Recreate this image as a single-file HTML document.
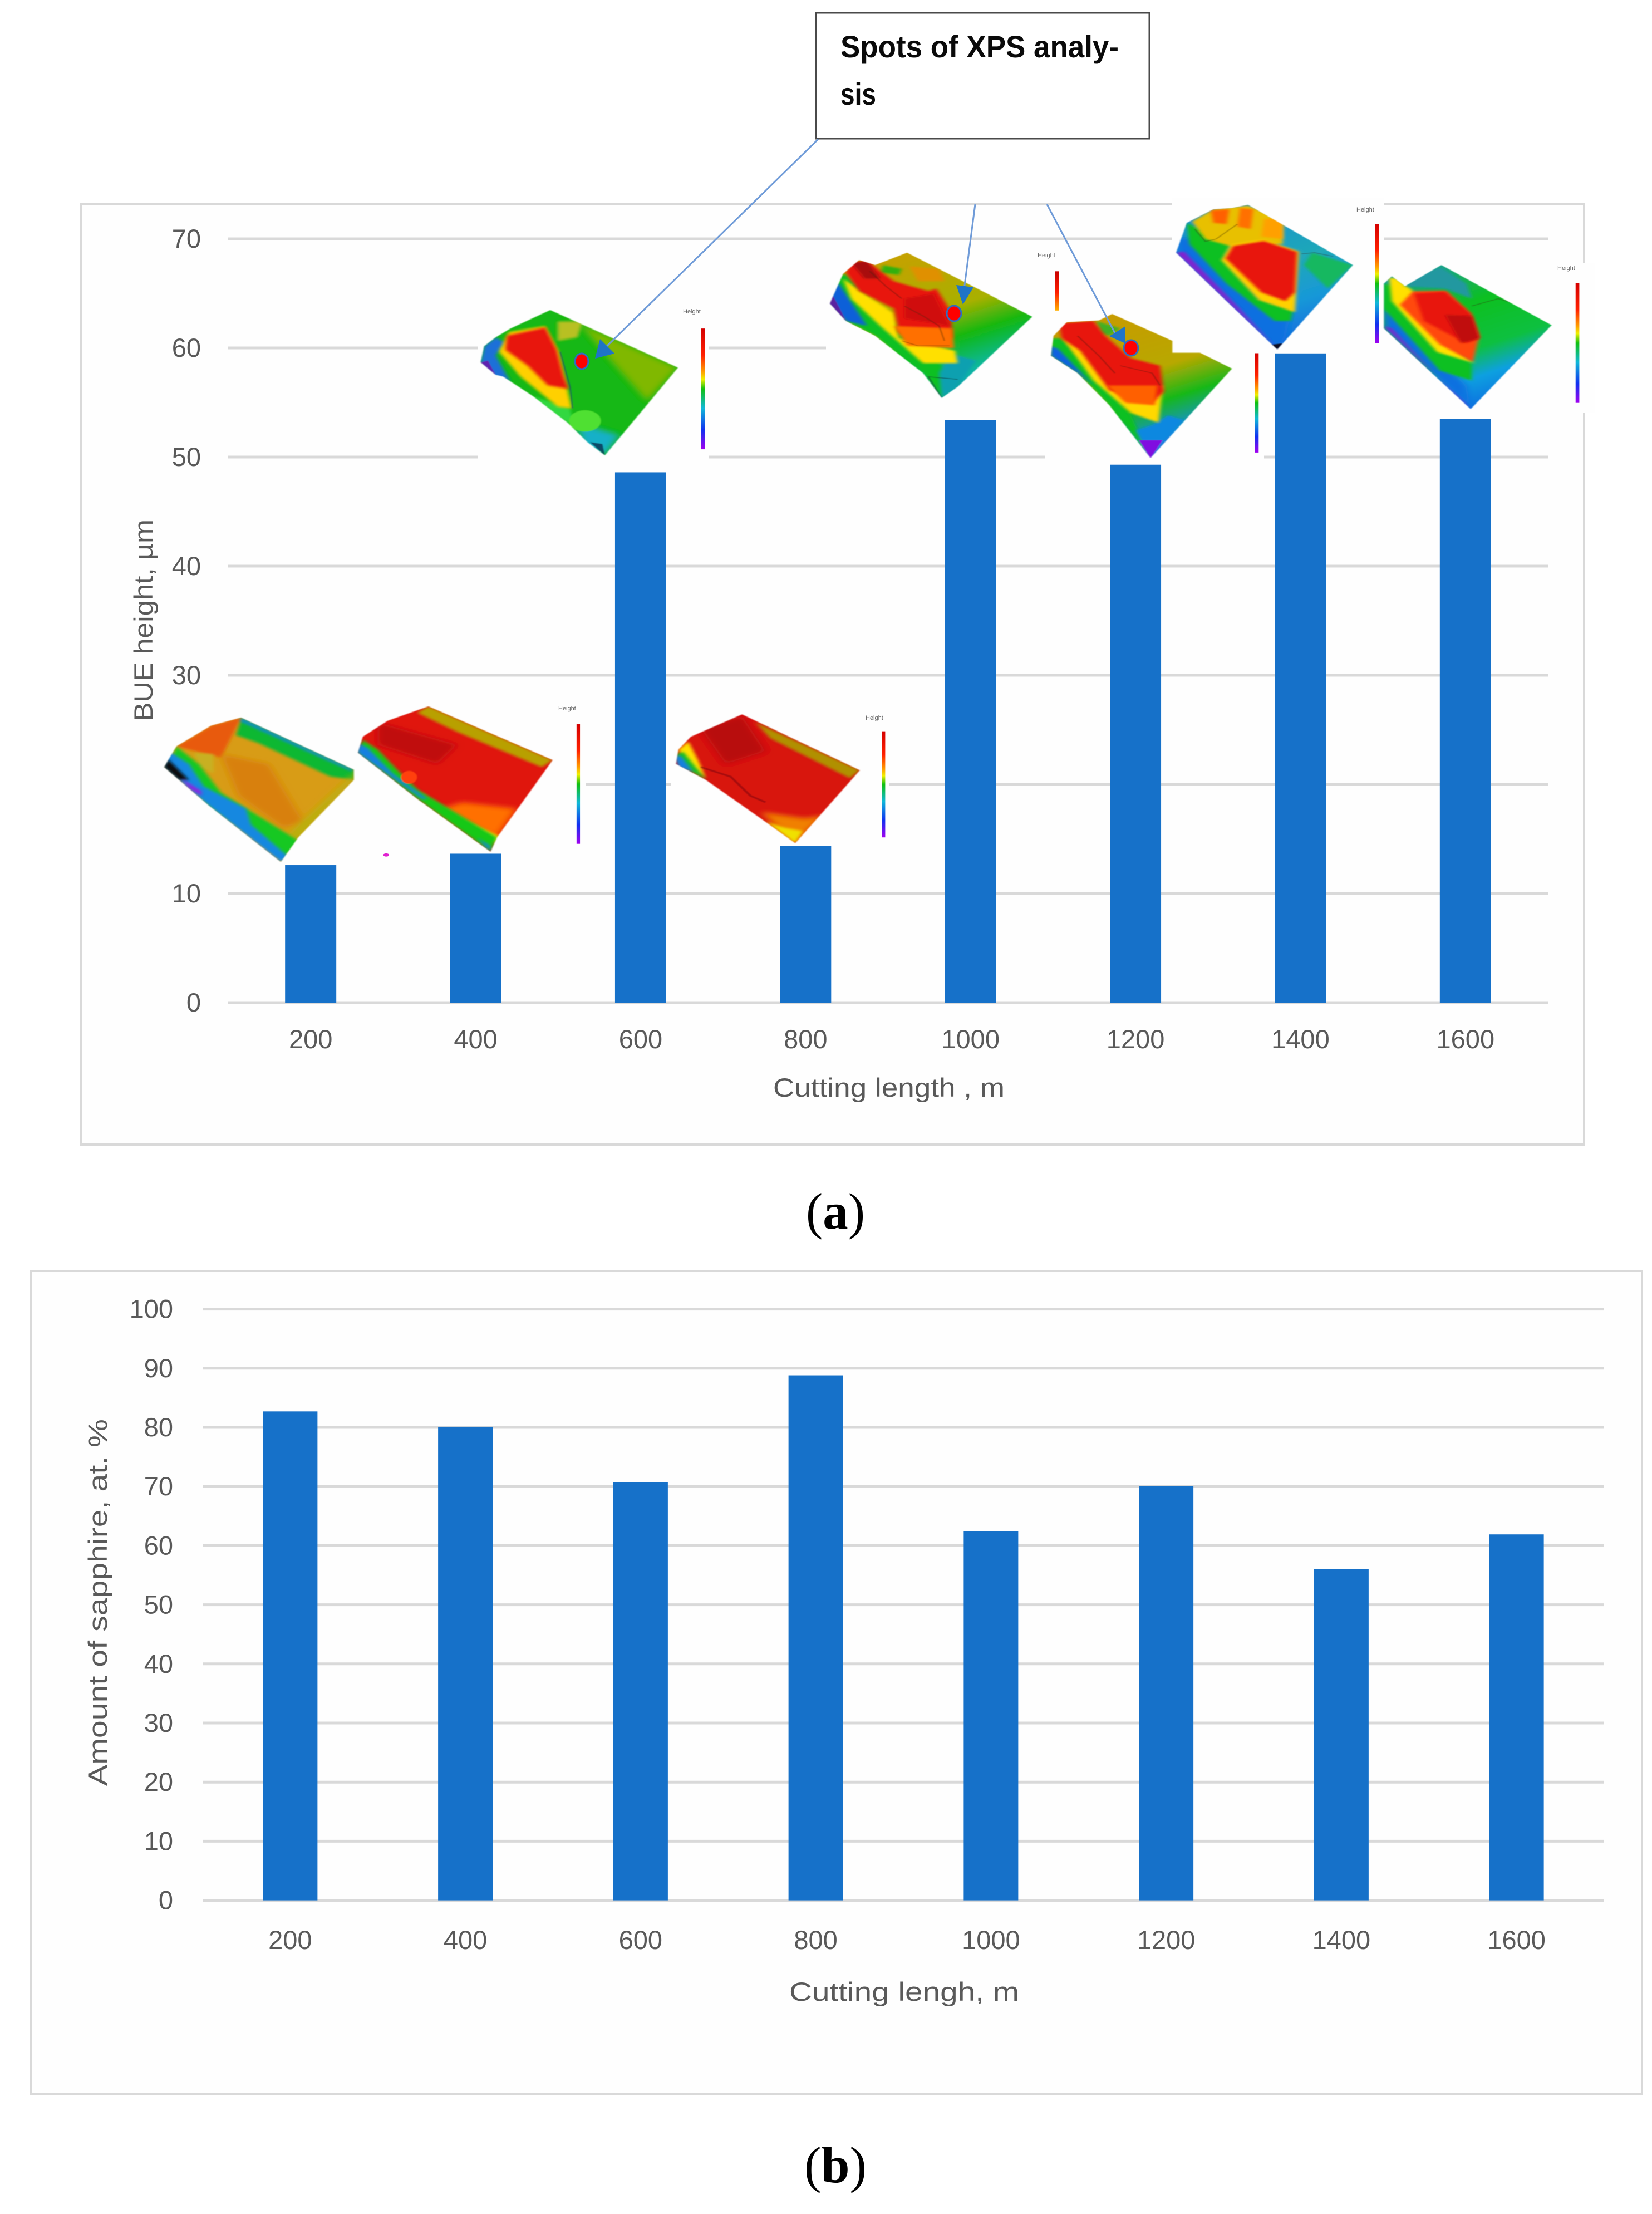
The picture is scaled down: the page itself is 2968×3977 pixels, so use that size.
<!DOCTYPE html>
<html lang="en">
<head>
<meta charset="utf-8">
<title>BUE height and amount of sapphire versus cutting length</title>
<style>
html,body{margin:0;padding:0;background:#fff;}
svg{display:block;}
text{font-family:"Liberation Sans",sans-serif;}
.tick{font-size:47px;fill:#595959;}
.title{font-size:47px;fill:#595959;}
.tiny{font-size:11px;fill:#666;}
.cap{font-family:"Liberation Serif",serif;font-size:92px;fill:#000;}
.ridge{fill:none;stroke:#302010;stroke-width:3;opacity:.35;}
</style>
</head>
<body>
<svg xmlns="http://www.w3.org/2000/svg" width="2968" height="3977" viewBox="0 0 2968 3977">
<defs>
  <filter id="b1" x="-30%" y="-30%" width="160%" height="160%"><feGaussianBlur stdDeviation="8"/></filter>
  <filter id="b2" x="-30%" y="-30%" width="160%" height="160%"><feGaussianBlur stdDeviation="3.5"/></filter>
  <filter id="edge" x="-5%" y="-5%" width="110%" height="110%"><feGaussianBlur stdDeviation="1.2"/></filter>
  <linearGradient id="cbar" x1="0" y1="0" x2="0" y2="1">
    <stop offset="0" stop-color="#d40000"/><stop offset=".22" stop-color="#ff2000"/><stop offset=".36" stop-color="#ffa000"/>
    <stop offset=".42" stop-color="#f0f000"/><stop offset=".5" stop-color="#10c010"/><stop offset=".66" stop-color="#10b8d8"/>
    <stop offset=".84" stop-color="#1030f0"/><stop offset="1" stop-color="#a000f0"/>
  </linearGradient>
  <linearGradient id="cbarTop" x1="0" y1="0" x2="0" y2="1">
    <stop offset="0" stop-color="#c80000"/><stop offset=".55" stop-color="#ff2000"/><stop offset="1" stop-color="#ffb000"/>
  </linearGradient>
  <linearGradient id="g1000" x1=".3" y1="0" x2=".75" y2="1">
    <stop offset="0" stop-color="#c8a000"/><stop offset=".42" stop-color="#a8b000"/><stop offset=".6" stop-color="#12b812"/><stop offset=".8" stop-color="#10b8a0"/><stop offset="1" stop-color="#1090d8"/>
  </linearGradient>
  <linearGradient id="g1200" x1=".3" y1="0" x2=".7" y2="1">
    <stop offset="0" stop-color="#c89a00"/><stop offset=".42" stop-color="#b8a800"/><stop offset=".62" stop-color="#18b818"/><stop offset=".82" stop-color="#1090d8"/><stop offset="1" stop-color="#8010e0"/>
  </linearGradient>
  <linearGradient id="g1400" x1=".3" y1="0" x2=".7" y2="1">
    <stop offset="0" stop-color="#1a8fd0"/><stop offset=".45" stop-color="#20a8b8"/><stop offset=".7" stop-color="#1898d8"/><stop offset="1" stop-color="#1060e0"/>
  </linearGradient>
  <linearGradient id="g1600" x1=".3" y1="0" x2=".7" y2="1">
    <stop offset="0" stop-color="#18a090"/><stop offset=".3" stop-color="#10c020"/><stop offset=".58" stop-color="#10c040"/><stop offset=".75" stop-color="#10a0e0"/><stop offset="1" stop-color="#1060e0"/>
  </linearGradient>
  <clipPath id="c600"><polygon points="995,873 1252,1035 1105,1282 1070,1245 1030,1190 960,1115 900,1060 885,1055 855,1020 862,975 885,950 915,925"/></clipPath>
  <clipPath id="c1000"><polygon points="240,345 475,603 335,885 305,930 270,830 180,680 125,620 95,550 120,430 150,375 180,395"/></clipPath>
  <clipPath id="c1200"><polygon points="625,592 738,700 738,748 790,748 850,812 697,1172 620,960 560,830 510,760 515,680 540,625 600,618"/></clipPath>
  <clipPath id="c1400"><polygon points="880,152 1077,395 935,735 820,500 745,345 765,225 815,170 850,165"/></clipPath>
  <clipPath id="c1600"><polygon points="1243,395 1450,637 1298,975 1135,650 1135,470 1150,440 1175,480"/></clipPath>
  <clipPath id="c200"><polygon points="205,155 432,318 432,350 320,530 285,607 140,430 50,310 75,245 145,180"/></clipPath>
  <clipPath id="c400"><polygon points="582,120 832,288 720,530 707,575 560,410 440,265 450,215 500,165"/></clipPath>
  <clipPath id="c800"><polygon points="1213,145 1450,320 1320,548 1250,470 1140,350 1080,300 1085,255 1110,215"/></clipPath>
</defs>

<rect x="0" y="0" width="2968" height="3977" fill="#ffffff"/>

<!-- Panel A -->
<rect x="146" y="367" width="2700" height="1689" fill="#fefefe" stroke="#d9d9d9" stroke-width="4"/>
<g id="a-grid"></g>
<g fill="#fefefe">
  <rect x="859" y="540" width="415" height="295"/>
  <rect x="1484" y="610" width="1310" height="26"/>
  <rect x="1878" y="805" width="393" height="30"/>
  <rect x="2106" y="355" width="380" height="285"/>
  <rect x="2476" y="472" width="390" height="270"/>
  <rect x="400" y="1395" width="653" height="26"/>
  <rect x="1205" y="1395" width="393" height="26"/>
</g>
<g id="a-bars"></g>
<g id="a-labels"></g>
<rect x="290" y="1370" width="125" height="70" fill="#fefefe"/>

<text class="title" transform="translate(274,1296) rotate(-90)" textLength="363" lengthAdjust="spacingAndGlyphs">BUE height, µm</text>
<text class="title" x="1389" y="1970" textLength="416" lengthAdjust="spacingAndGlyphs">Cutting length , m</text>

<!-- Surface images, row 1 -->
<g transform="translate(100,0) scale(.893,.638)">
  <g filter="url(#edge)"><g clip-path="url(#c600)">
    <rect x="840" y="860" width="430" height="430" fill="#12b812"/>
    <polygon filter="url(#b1)" points="995,873 1252,1035 1190,1130 1120,1020 1050,905" fill="#80b800"/>
    <polygon filter="url(#b2)" points="1010,905 1060,905 1050,950 1010,960" fill="#b8c020"/>
    <polygon filter="url(#b1)" points="1050,1190 1135,1225 1105,1282 1060,1260" fill="#12b0c8"/>
    <polygon filter="url(#b2)" points="855,1020 862,975 885,950 905,965 885,1000 915,1075 880,1060" fill="#1a70d8"/>
    <polygon filter="url(#b2)" points="960,1115 1035,1150 1045,1200 1000,1170" fill="#30d840"/>
    <polygon filter="url(#b2)" points="892,990 912,935 985,918 1012,990 1038,1150 1010,1145 935,1060" fill="#ffd000"/>
    <polygon filter="url(#b2)" points="908,945 985,922 1008,985 1022,1060 1032,1095 990,1085 950,1030 905,985" fill="#e81510"/>
    <ellipse cx="1065" cy="1185" rx="32" ry="30" fill="#50e030"/>
    <polygon points="855,1020 870,1015 885,1055" fill="#6020b0"/>
    <polyline points="1015,990 1035,1090 1040,1150" fill="none" stroke="#155060" stroke-width="3" opacity=".7"/>
    <polygon points="1075,1245 1105,1282 1100,1250" fill="#103050" opacity=".8"/>
  </g></g>
  <rect x="1299" y="925" width="7" height="340" fill="url(#cbar)"/>
</g>
<text class="tiny" x="1227" y="563">Height</text>

<g transform="translate(1400,300) scale(.957,.446)">
  <g filter="url(#edge)"><g clip-path="url(#c1000)">
    <rect x="90" y="340" width="395" height="600" fill="url(#g1000)"/>
    <polygon filter="url(#b2)" points="195,395 230,410 225,435 190,425" fill="#30b010"/>
    <polygon filter="url(#b2)" points="245,400 300,410 310,460 260,460" fill="#e09000"/>
    <polygon filter="url(#b2)" points="95,450 125,430 210,620 300,790 340,860 305,930 270,830 180,680 125,620 95,550" fill="#10c020"/>
    <polygon filter="url(#b2)" points="95,470 112,470 165,640 125,620 95,550" fill="#1060d8"/>
    <polygon filter="url(#b2)" points="320,750 370,780 335,885 305,930 300,830" fill="#10a0b0"/>
    <polygon filter="url(#b2)" points="120,450 215,590 225,690 330,740 335,790 270,790 190,640 135,530" fill="#ffe000"/>
    <polygon filter="url(#b2)" points="125,425 135,385 165,378 215,460 280,500 295,490 322,580 325,690 225,670 215,570 150,500" fill="#e81510"/>
    <polygon filter="url(#b2)" points="135,385 165,378 190,450 160,450" fill="#a81010"/>
    <polygon filter="url(#b2)" points="235,530 290,510 320,640 235,610" fill="#d01010"/>
    <polygon filter="url(#b2)" points="215,640 325,650 328,730 240,720" fill="#ff7000"/>
    <polygon points="95,550 100,515 115,575 125,620" fill="#5a20a0"/>
    <polyline class="ridge" points="235,560 270,600 300,640 310,700"/>
    <polyline class="ridge" points="230,700 260,720 320,720"/>
    <polyline class="ridge" points="170,420 200,480 230,530"/>
    <polyline points="305,930 280,845 335,855" fill="none" stroke="#153030" stroke-width="3" opacity=".55"/>
  </g></g>
  <rect x="518" y="420" width="7" height="158" fill="url(#cbarTop)"/>
</g>
<text class="tiny" x="1864" y="462">Height</text>

<g transform="translate(1400,300) scale(.957,.446)">
  <g filter="url(#edge)"><g clip-path="url(#c1200)">
    <rect x="500" y="585" width="360" height="595" fill="url(#g1200)"/>
    <polygon filter="url(#b2)" points="510,690 530,690 620,900 660,1000 697,1172 620,960 560,830 510,760" fill="#10c020"/>
    <polygon filter="url(#b2)" points="510,720 525,735 590,880 560,830 510,760" fill="#1060e0"/>
    <polygon filter="url(#b2)" points="700,1040 730,1000 760,1020 697,1172 670,1060" fill="#1088e0"/>
    <polygon filter="url(#b2)" points="595,620 640,650 620,680 605,670" fill="#40b020"/>
    <polygon filter="url(#b2)" points="530,680 570,740 610,850 720,880 712,1030 660,990 590,860" fill="#ffd800"/>
    <polygon filter="url(#b2)" points="525,630 590,620 612,680 660,770 715,800 722,905 700,950 620,900 565,740 530,690" fill="#e81510"/>
    <polygon filter="url(#b2)" points="615,880 710,880 705,960 650,950" fill="#ff6000"/>
    <polygon points="697,1172 675,1100 720,1100" fill="#8010e0"/>
    <polyline class="ridge" points="560,680 600,760 630,830"/>
    <polyline class="ridge" points="640,800 700,830 715,880"/>
  </g></g>
  <rect x="893" y="750" width="7" height="400" fill="url(#cbar)"/>
</g>

<g transform="translate(1400,300) scale(.957,.446)">
  <g filter="url(#edge)"><g clip-path="url(#c1400)">
    <rect x="740" y="150" width="345" height="590" fill="url(#g1400)"/>
    <polygon filter="url(#b2)" points="1000,345 1077,395 1030,490 985,395" fill="#12b860"/>
    <polygon filter="url(#b1)" points="745,280 800,300 960,590 950,690 935,735 820,500 745,345" fill="#1070e0"/>
    <polygon filter="url(#b2)" points="745,345 760,340 860,560 920,700 935,735 820,500" fill="#8020d0"/>
    <polygon filter="url(#b2)" points="765,225 810,270 850,300 835,370 900,530 965,575 960,620 930,620 840,470 770,310" fill="#10c020"/>
    <polygon filter="url(#b2)" points="775,220 815,170 880,155 945,210 945,310 850,320 800,290" fill="#e8c000"/>
    <polygon filter="url(#b2)" points="810,175 845,170 840,230 815,225" fill="#ff6000"/>
    <polygon filter="url(#b2)" points="865,165 890,170 885,250 860,240" fill="#ff7000"/>
    <polygon filter="url(#b2)" points="910,210 945,205 945,290 905,280" fill="#ffa000"/>
    <polygon filter="url(#b2)" points="830,375 848,312 910,292 975,340 968,585 900,535" fill="#ffd000"/>
    <polygon filter="url(#b2)" points="838,368 852,318 910,298 972,342 968,505 950,540 905,505" fill="#e81510"/>
    <polygon points="935,735 925,715 945,710" fill="#101020"/>
    <polyline class="ridge" points="780,250 800,300 820,290 860,230"/>
    <polyline class="ridge" points="980,350 1005,345 1040,360"/>
  </g></g>
  <rect x="1119" y="230" width="7" height="480" fill="url(#cbar)"/>
</g>
<text class="tiny" x="2437" y="380">Height</text>

<g transform="translate(1400,300) scale(.957,.446)">
  <g filter="url(#edge)"><g clip-path="url(#c1600)">
    <rect x="1130" y="390" width="330" height="590" fill="url(#g1600)"/>
    <polygon filter="url(#b1)" points="1135,560 1160,600 1290,880 1298,975 1135,650" fill="#1070e0"/>
    <polygon filter="url(#b2)" points="1135,640 1150,650 1280,950 1298,975" fill="#8020d0"/>
    <polygon filter="url(#b2)" points="1135,470 1175,490 1240,700 1300,790 1300,860 1240,820 1135,570" fill="#10c020"/>
    <polygon filter="url(#b2)" points="1145,445 1160,450 1190,500 1260,720 1305,790 1235,745 1150,540" fill="#ffe000"/>
    <polygon filter="url(#b2)" points="1165,555 1190,500 1252,498 1298,590 1314,680 1302,785 1240,715" fill="#ff4808"/>
    <polygon filter="url(#b2)" points="1192,510 1250,502 1298,590 1314,690 1290,710 1210,620" fill="#e81510"/>
    <polygon filter="url(#b2)" points="1250,595 1300,600 1314,690 1280,710" fill="#c01010"/>
    <polygon filter="url(#b2)" points="1200,430 1243,405 1290,470 1300,530 1250,490 1175,480" fill="#2098a0"/>
    <polyline class="ridge" points="1300,560 1350,530 1380,550"/>
  </g></g>
  <rect x="1495" y="468" width="7" height="482" fill="url(#cbar)"/>
</g>
<text class="tiny" x="2798" y="485">Height</text>

<!-- Surface images, row 2 -->
<g transform="translate(250,1200) scale(.893,.574)">
  <g filter="url(#edge)"><g clip-path="url(#c200)">
    <rect x="40" y="150" width="400" height="460" fill="#d89c14"/>
    <polygon filter="url(#b2)" points="205,155 432,318 432,350 385,340 240,235 195,210" fill="#10b830"/>
    <polygon filter="url(#b2)" points="205,155 432,318 425,322 200,165" fill="#1090c0"/>
    <polygon filter="url(#b2)" points="75,245 145,180 205,155 165,280 125,265" fill="#e85a10"/>
    <polygon filter="url(#b2)" points="110,265 150,270 150,330 120,310" fill="#c8b020"/>
    <polygon filter="url(#b1)" points="165,270 260,300 330,480 290,500 200,400" fill="#d88008"/>
    <polygon filter="url(#b1)" points="300,520 432,330 432,350 300,570" fill="#b8b010"/>
    <polygon filter="url(#b2)" points="75,245 120,300 165,390 325,545 290,595 140,430 60,300" fill="#18c820"/>
    <polygon filter="url(#b2)" points="60,260 100,300 130,370 215,440 225,490 300,590 285,607 140,430 50,310" fill="#1888e0"/>
    <polygon filter="url(#b2)" points="50,310 58,285 100,350 80,350" fill="#111"/>
    <polygon filter="url(#b2)" points="85,345 125,385 125,400 100,375" fill="#9020e0"/>
  </g></g>
</g>

<g transform="translate(250,1200) scale(.893,.574)">
  <g filter="url(#edge)"><g clip-path="url(#c400)">
    <rect x="430" y="115" width="410" height="465" fill="#e01510"/>
    <polygon filter="url(#b2)" points="582,120 832,288 810,310 640,200 560,140" fill="#b8a000"/>
    <polygon filter="url(#b1)" points="480,170 640,240 600,300 480,240" fill="#c01010"/>
    <polygon filter="url(#b1)" points="600,445 720,530 760,440 650,420" fill="#ff7000"/>
    <polygon filter="url(#b2)" points="560,385 620,450 730,530 720,550 640,490 570,400" fill="#ffe000"/>
    <polygon filter="url(#b2)" points="450,225 480,255 520,320 560,380 720,530 707,575 560,410 440,265" fill="#12c818"/>
    <polygon filter="url(#b2)" points="440,235 460,250 510,330 580,410 570,410 525,360 440,265" fill="#1880e0"/>
    <polygon filter="url(#b2)" points="680,530 705,555 707,575" fill="#1880e0"/>
    <ellipse cx="543" cy="342" rx="16" ry="20" fill="#ff4010"/>
  </g></g>
  <rect x="880" y="176" width="7" height="374" fill="url(#cbar)"/>
  <ellipse cx="497" cy="585" rx="6" ry="5" fill="#e020d0"/>
</g>
<text class="tiny" x="1003" y="1276">Height</text>

<g transform="translate(250,1200) scale(.893,.574)">
  <g filter="url(#edge)"><g clip-path="url(#c800)">
    <rect x="1070" y="140" width="390" height="415" fill="#d81210"/>
    <polygon filter="url(#b1)" points="1130,190 1213,150 1260,260 1180,300" fill="#b81010"/>
    <polygon filter="url(#b2)" points="1240,170 1450,320 1430,345 1270,220" fill="#b09000"/>
    <polygon filter="url(#b1)" points="1250,450 1340,470 1380,460 1320,548" fill="#f08000"/>
    <polygon filter="url(#b2)" points="1260,480 1300,500 1335,510 1320,548" fill="#f0e000"/>
    <polygon filter="url(#b2)" points="1085,255 1105,230 1125,290 1140,345 1100,300" fill="#ffe000"/>
    <polygon filter="url(#b2)" points="1080,270 1095,262 1125,320 1140,350 1090,305" fill="#12c020"/>
    <polygon filter="url(#b2)" points="1078,275 1090,275 1115,325 1085,310" fill="#1880e0"/>
    <polyline points="1130,310 1190,340 1230,400 1260,420" fill="none" stroke="#801010" stroke-width="5" opacity=".6"/>
  </g></g>
  <rect x="1494" y="198" width="7" height="332" fill="url(#cbar)"/>
</g>
<text class="tiny" x="1555" y="1293">Height</text>

<!-- Callout -->
<rect x="1466" y="23" width="599" height="226" fill="#ffffff" stroke="#4a4a4a" stroke-width="3"/>
<text x="1510" y="103" font-size="56" font-weight="700" fill="#0a0a0a" textLength="500" lengthAdjust="spacingAndGlyphs">Spots of XPS analy-</text>
<text x="1510" y="188" font-size="56" font-weight="700" fill="#0a0a0a" textLength="64" lengthAdjust="spacingAndGlyphs">sis</text>
<g>
  <line x1="1470" y1="250" x2="1090" y2="622" stroke="#6f9bd8" stroke-width="3"/>
  <polygon points="1069,644 1078,609 1104,635" fill="#1f74c8"/>
  <ellipse cx="1045" cy="649" rx="12" ry="14" fill="#ff0000" stroke="#2f6fc0" stroke-width="3"/>
  <line x1="1752" y1="367" x2="1732" y2="520" stroke="#6f9bd8" stroke-width="3"/>
  <polygon points="1730,547 1718,512 1749,516" fill="#1f74c8"/>
  <ellipse cx="1714" cy="563" rx="13" ry="14" fill="#ff0000" stroke="#2f6fc0" stroke-width="3"/>
  <line x1="1881" y1="367" x2="2003" y2="598" stroke="#6f9bd8" stroke-width="3"/>
  <polygon points="2022,586 1993,604 2022,617" fill="#1f74c8"/>
  <ellipse cx="2032" cy="625" rx="13" ry="14" fill="#ff0000" stroke="#2f6fc0" stroke-width="3"/>
</g>

<text class="cap" x="1448" y="2207" textLength="106" lengthAdjust="spacingAndGlyphs">(<tspan font-weight="700">a</tspan>)</text>

<!-- Panel B -->
<rect x="56" y="2283" width="2894" height="1479" fill="#fefefe" stroke="#d9d9d9" stroke-width="4"/>
<g id="b-grid"></g>
<g id="b-bars"></g>
<g id="b-labels"></g>
<text class="title" transform="translate(192,3208) rotate(-90)" textLength="659" lengthAdjust="spacingAndGlyphs">Amount of sapphire, at. %</text>
<text class="title" x="1418" y="3594" textLength="413" lengthAdjust="spacingAndGlyphs">Cutting lengh, m</text>
<text class="cap" x="1445" y="3920" textLength="112" lengthAdjust="spacingAndGlyphs">(<tspan font-weight="700">b</tspan>)</text>

<script>
var categories = ['200', '400', '600', '800', '1000', '1200', '1400', '1600'];
var bueHeight = [12.6, 13.65, 48.6, 14.35, 53.4, 49.3, 59.5, 53.5];
var sapphireAmount = [82.7, 80.1, 70.7, 88.8, 62.4, 70.1, 56, 61.9];
var bueTicks = [0, 10, 20, 30, 40, 50, 60, 70];
var sapphireTicks = [0, 10, 20, 30, 40, 50, 60, 70, 80, 90, 100];

var NS = 'http://www.w3.org/2000/svg';

function xA(i) { return 410 + (2781 - 410) / categories.length * (i + 0.5); }
function yA(v) { return 1801 - v * 19.6; }
function xB(i) { return 364 + (2882 - 364) / categories.length * (i + 0.5); }
function yB(v) { return 3413.6 - v * 10.62; }

function make(tag, attrs, parent, content) {
  var el = document.createElementNS(NS, tag);
  for (var k in attrs) { el.setAttribute(k, attrs[k]); }
  if (content !== undefined) { el.textContent = content; }
  parent.appendChild(el);
  return el;
}

function drawChart(prefix, values, ticks, x, y, left, right, barWidth, tickX, catY) {
  var grid = document.getElementById(prefix + '-grid');
  var bars = document.getElementById(prefix + '-bars');
  var labels = document.getElementById(prefix + '-labels');
  ticks.forEach(function (t) {
    var line = make('line', { x1: left, x2: right, y1: y(t), y2: y(t), stroke: '#d9d9d9', 'stroke-width': 5 }, grid);
    
    
    var label = make('text', { x: tickX, y: y(t) + 16, 'text-anchor': 'end', 'class': 'tick' }, labels, String(t));
    
    
  });
  categories.forEach(function (c, i) {
    var bar = make('rect', { x: x(i) - barWidth / 2, y: y(values[i]), width: barWidth, height: y(0) - y(values[i]), fill: '#1671c9' }, bars);
    
    
    var label = make('text', { x: x(i), y: catY, 'text-anchor': 'middle', 'class': 'tick' }, labels, c);
    
    
  });
}

drawChart('a', bueHeight, bueTicks, xA, yA, 410, 2781, 92, 361, 1883);
drawChart('b', sapphireAmount, sapphireTicks, xB, yB, 364, 2882, 98, 311, 3501);
</script>
</svg>
</body>
</html>
